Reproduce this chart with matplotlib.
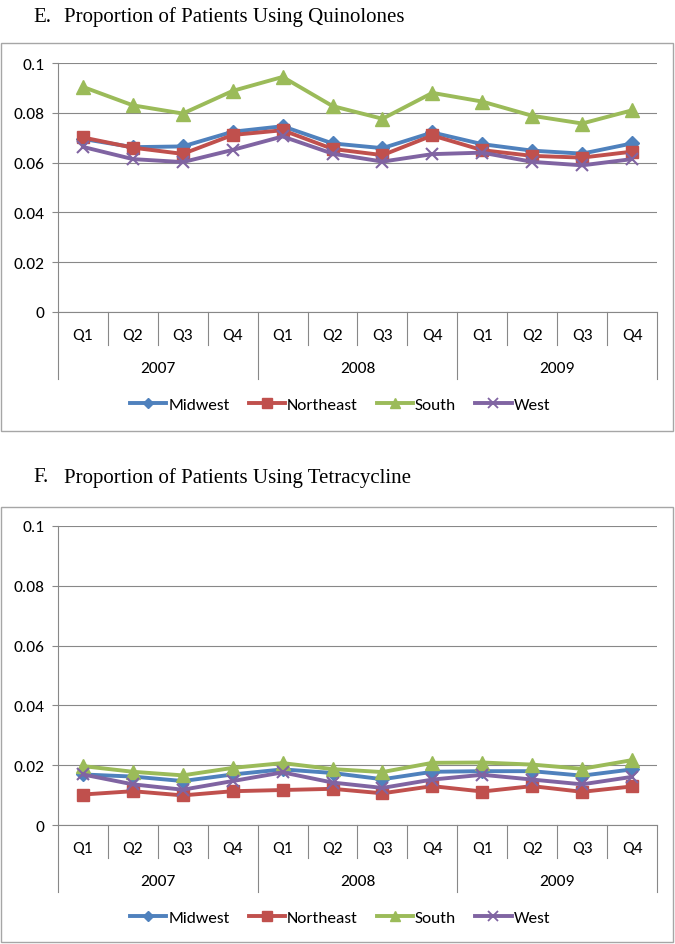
import matplotlib
matplotlib.use("Agg")
import matplotlib.pyplot as plt
from matplotlib.patches import Rectangle
from matplotlib.lines import Line2D

quarters = ["Q1", "Q2", "Q3", "Q4"] * 3
years = ["2007", "2008", "2009"]
regions = ["Midwest", "Northeast", "South", "West"]
yticks = [0, 0.02, 0.04, 0.06, 0.08, 0.1]
ytick_labels = ["0", "0.02", "0.04", "0.06", "0.08", "0.1"]

quin_midwest = [0.0695, 0.0662, 0.0665, 0.0724, 0.0746, 0.0677, 0.0658, 0.0721, 0.0674, 0.0648, 0.0636, 0.0677]
quin_northeast = [0.0701, 0.0660, 0.0635, 0.0711, 0.0730, 0.0655, 0.0630, 0.0709, 0.0650, 0.0627, 0.0620, 0.0644]
quin_south = [0.0904, 0.0830, 0.0797, 0.0888, 0.0944, 0.0827, 0.0776, 0.0880, 0.0845, 0.0788, 0.0757, 0.0810]
quin_west = [0.0663, 0.0614, 0.0602, 0.0651, 0.0705, 0.0636, 0.0604, 0.0634, 0.0640, 0.0603, 0.0589, 0.0614]

tetra_midwest = [0.0169, 0.0162, 0.0147, 0.0169, 0.0186, 0.0174, 0.0153, 0.0178, 0.0180, 0.0180, 0.0165, 0.0186]
tetra_northeast = [0.0102, 0.0113, 0.0099, 0.0113, 0.0117, 0.0121, 0.0106, 0.0130, 0.0112, 0.0130, 0.0111, 0.0129]
tetra_south = [0.0197, 0.0178, 0.0166, 0.0191, 0.0207, 0.0187, 0.0177, 0.0208, 0.0209, 0.0202, 0.0188, 0.0217]
tetra_west = [0.0169, 0.0136, 0.0118, 0.0147, 0.0176, 0.0142, 0.0124, 0.0152, 0.0168, 0.0152, 0.0136, 0.0161]

colors = ["#4F81BD", "#C0504D", "#9BBB59", "#8064A2"]
markers = ["D", "s", "^", "x"]
msizes = [7, 8.5, 9.5, 9]

W, H = 675, 945
fig = plt.figure(figsize=(W / 100, H / 100), dpi=100)

import matplotlib.font_manager as fm
avail = {f.name for f in fm.fontManager.ttflist}
TICKFONT = "Carlito" if "Carlito" in avail else ("Lato" if "Lato" in avail else "DejaVu Sans")
SERIF = "Liberation Serif"
GRID = "#888888"
FS = 12.5


def panel(title, title_y, box_top, box_bot, ax_top, ax_bot, series):
    fig.patches.append(Rectangle((1 / W, 1 - box_bot / H), 672 / W, (box_bot - box_top) / H,
                                 transform=fig.transFigure, fill=False,
                                 edgecolor="#A6A6A6", lw=1.0))
    head, rest = title.split("  ")
    fig.text(33 / W, 1 - title_y / H, head, family=SERIF, fontsize=15,
             va="center", ha="left")
    fig.text(64 / W, 1 - title_y / H, rest, family=SERIF, fontsize=15,
             va="center", ha="left")
    left, right = 58, 657
    ax = fig.add_axes([left / W, 1 - ax_bot / H, (right - left) / W, (ax_bot - ax_top) / H])
    hpx = ax_bot - ax_top
    x = list(range(12))
    handles = []
    for i, (name, vals) in enumerate(zip(regions, series)):
        kw = dict(color=colors[i], lw=2.8, marker=markers[i], ms=msizes[i],
                  mfc=colors[i], mec=colors[i], zorder=3 + i)
        if markers[i] == "x":
            kw["mew"] = 1.5
        ax.plot(x, vals, **kw)
        lk = dict(color=colors[i], lw=2.8, marker=markers[i], ms=msizes[i] * 0.8,
                  mfc=colors[i], mec=colors[i])
        if markers[i] == "x":
            lk["mew"] = 1.3
        handles.append(Line2D([], [], **lk, label=name))
    ax.set_xlim(-0.5, 11.5)
    ax.set_ylim(0, 0.1)
    ax.set_yticks(yticks)
    ax.set_yticklabels(ytick_labels, family=TICKFONT, fontsize=FS)
    ax.tick_params(axis="y", length=4, width=0.8, color=GRID, pad=6)
    ax.set_xticks([])
    ax.grid(axis="y", color=GRID, lw=0.8)
    ax.set_axisbelow(True)
    for s in ["top", "right"]:
        ax.spines[s].set_visible(False)
    for s in ["left", "bottom"]:
        ax.spines[s].set_color(GRID)
        ax.spines[s].set_linewidth(0.8)
    tr = ax.get_xaxis_transform()
    for i, q in enumerate(quarters):
        ax.text(i, -23 / hpx, q, transform=tr, ha="center", va="center",
                family=TICKFONT, fontsize=FS)
    for k in range(13):
        depth = 67 if k % 4 == 0 else 33
        ax.plot([k - 0.5, k - 0.5], [0, -depth / hpx], transform=tr, color=GRID,
                lw=0.8, clip_on=False)
    for j, yname in enumerate(years):
        ax.text(4 * j + 1.5, -56 / hpx, yname, transform=tr, ha="center", va="center",
                family=TICKFONT, fontsize=FS)
    fig.legend(handles=handles, loc="center", ncol=4,
               bbox_to_anchor=(340 / W, 1 - (ax_bot + 92) / H),
               frameon=False, handlelength=2.1, handletextpad=0.1,
               columnspacing=1.1, prop={"family": TICKFONT, "size": FS})
    return ax


panel("E.  Proportion of Patients Using Quinolones", 17, 44, 432, 64, 313,
      [quin_midwest, quin_northeast, quin_south, quin_west])
panel("F.  Proportion of Patients Using Tetracycline", 478, 508, 943, 527, 826,
      [tetra_midwest, tetra_northeast, tetra_south, tetra_west])

fig.savefig("out.png", dpi=100)
